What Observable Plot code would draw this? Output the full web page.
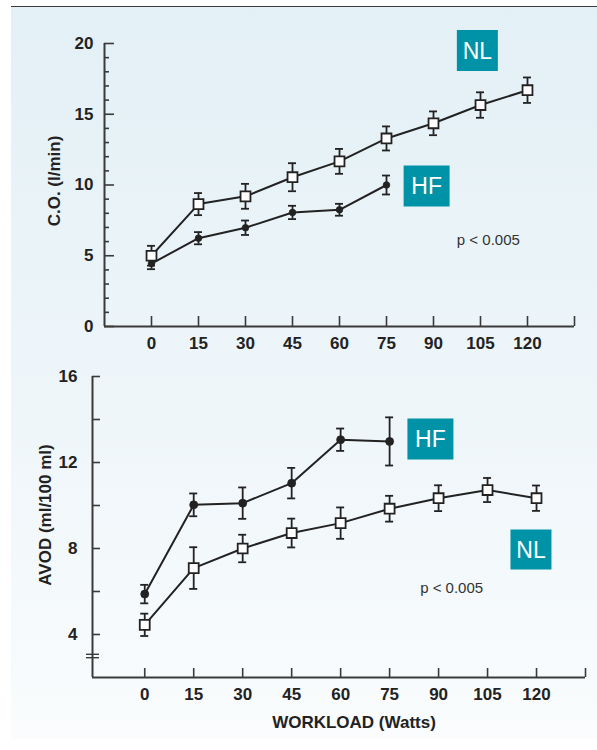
<!DOCTYPE html>
<html>
<head>
<meta charset="utf-8">
<script src="https://cdn.jsdelivr.net/npm/d3@7"></script>
<script src="https://cdn.jsdelivr.net/npm/@observablehq/plot@0.6"></script>
<style>
  html, body { margin: 0; padding: 0; background: #ffffff; }
  #wrap { position: relative; width: 597px; height: 750px; overflow: hidden; font-family: "Liberation Sans", Arial, sans-serif; }
  #panel { position: absolute; left: 11px; top: 6px; width: 586px; height: 732px;
           border-top: 1.6px solid #3a3a3a;
           background: linear-gradient(to bottom, #e3f0f6 0%, #edf5f9 50%, #fafcfd 100%); }
  #top, #bottom { position: absolute; left: 0; }
  #top { top: 0; }
  #bottom { top: 360px; }
  svg { overflow: visible; }
</style>
</head>
<body>
<div id="wrap">
  <div id="panel"></div>
  <div id="top"></div>
  <div id="bottom"></div>
</div>
<script>
// ---------- data ----------
const workload = [0, 15, 30, 45, 60, 75, 90, 105, 120];
const workloadHF = [0, 15, 30, 45, 60, 75];

// Cardiac output (l/min)
const coNL    = [5.0, 8.65, 9.2, 10.55, 11.67, 13.29, 14.36, 15.65, 16.7];
const coNLerr = [0.7, 0.78, 0.88, 0.99, 0.88, 0.85, 0.84, 0.9, 0.9];
const coHF    = [4.45, 6.24, 6.98, 8.06, 8.25, 10.0];
const coHFerr = [0.4, 0.43, 0.51, 0.47, 0.42, 0.67];

// AVOD (ml/100 ml)
const avodNL    = [4.45, 7.09, 8.0, 8.72, 9.18, 9.85, 10.34, 10.72, 10.34];
const avodNLerr = [0.52, 0.97, 0.64, 0.67, 0.73, 0.6, 0.6, 0.56, 0.59];
const avodHF    = [5.88, 10.03, 10.11, 11.04, 13.06, 12.98];
const avodHFerr = [0.43, 0.53, 0.73, 0.71, 0.52, 1.12];

// axes
const xTicks = [0, 15, 30, 45, 60, 75, 90, 105, 120];
const coYMajor = [0, 5, 10, 15, 20];
const coYMinor = [1, 2, 3, 4, 6, 7, 8, 9, 11, 12, 13, 14, 16, 17, 18, 19];
const avodYLabels = [4, 8, 12, 16];
const avodYTicks = [4, 6, 8, 10, 12, 14, 16];
const avodBreak = [3];

// texts
const coYTitle = "C.O. (l/min)";
const avodYTitle = "AVOD (ml/100 ml)";
const xTitle = "WORKLOAD (Watts)";
const pText = "p < 0.005";

// label annotations (data coordinates)
const coLabels = [
  {name: "NL", x: 104, y: 19.5, w: 41, h: 41},
  {name: "HF", x: 87.8, y: 9.93, w: 46, h: 41}
];
const coP = [{x: 107.5, y: 6.1}];
const avodLabels = [
  {name: "HF", x: 87.5, y: 13.09, w: 46, h: 41},
  {name: "NL", x: 118.3, y: 7.95, w: 41, h: 40}
];
const avodP = [{x: 94, y: 6.15}];

// ---------- helpers ----------
const FONT = "'Liberation Sans', Arial, Helvetica, sans-serif";
const INK = "#222";
const AXIS = "#3a3a3a";
const TEAL = "#0093a8";
const TICKFS = 17;

function series(xs, vs, es) { return xs.map((x, i) => ({x, v: vs[i], e: es[i]})); }
function rectSymbol(w, h) { return {draw(ctx) { ctx.rect(-w / 2, -h / 2, w, h); }}; }

function seriesMarks(nl, hf, dotR) {
  const errMarks = (d) => [
    Plot.ruleX(d, {x: "x", y1: (p) => p.v - p.e, y2: (p) => p.v + p.e, stroke: INK, strokeWidth: 1.8}),
    Plot.ruleY(d, {x1: "x", x2: "x", y: (p) => p.v + p.e, insetLeft: -4, insetRight: -4, stroke: INK, strokeWidth: 1.8}),
    Plot.ruleY(d, {x1: "x", x2: "x", y: (p) => p.v - p.e, insetLeft: -4, insetRight: -4, stroke: INK, strokeWidth: 1.8})
  ];
  return [
    Plot.line(nl, {x: "x", y: "v", stroke: INK, strokeWidth: 2}),
    Plot.line(hf, {x: "x", y: "v", stroke: INK, strokeWidth: 2}),
    ...errMarks(hf),
    ...errMarks(nl),
    Plot.dot(hf, {x: "x", y: "v", r: dotR, fill: INK, stroke: INK, strokeWidth: 0.8}),
    Plot.dot(nl, {x: "x", y: "v", symbol: "square", r: 5.6, fill: "white", stroke: INK, strokeWidth: 1.8})
  ];
}

function labelMarks(labels, pPos) {
  const m = [];
  for (const l of labels) {
    m.push(Plot.dot([l], {x: "x", y: "y", symbol: rectSymbol(l.w, l.h), fill: TEAL, stroke: "none"}));
    m.push(Plot.text([l], {x: "x", y: "y", text: "name", fill: "white", fontSize: 23, fontFamily: FONT, dy: 1}));
  }
  m.push(Plot.text(pPos, {x: "x", y: "y", text: () => pText, fill: "#333", fontSize: 15, fontFamily: FONT}));
  return m;
}

// ---------- top chart ----------
const coXDomain = [-15, 135];
const coYDomain = [0, 20];
const topPlot = Plot.plot({
  width: 597, height: 360,
  marginTop: 43, marginBottom: 34, marginLeft: 104, marginRight: 23,
  style: {background: "transparent", fontFamily: FONT, overflow: "visible"},
  x: {domain: coXDomain, label: null},
  y: {domain: coYDomain, label: null},
  marks: [
    Plot.ruleX([coXDomain[0]], {y1: coYDomain[0], y2: coYDomain[1], stroke: AXIS, strokeWidth: 2}),
    Plot.ruleY([coYDomain[0]], {x1: coXDomain[0], x2: coXDomain[1], stroke: AXIS, strokeWidth: 2}),
    Plot.axisY({ticks: coYMajor, tickSize: 10, dx: 10, tickFormat: () => "", label: null, stroke: AXIS, strokeWidth: 1.6}),
    Plot.axisY({ticks: coYMinor, tickSize: 5, dx: 5, tickFormat: () => "", label: null, stroke: AXIS, strokeWidth: 1.6}),
    Plot.axisY({ticks: coYMajor, tickSize: 0, tickPadding: 11, label: null, fontSize: TICKFS, fontWeight: "bold", fill: INK, fontFamily: FONT}),
    Plot.axisX({ticks: [...xTicks, coXDomain[1]], tickSize: 10, dy: -10, tickFormat: () => "", label: null, stroke: AXIS, strokeWidth: 1.6}),
    Plot.axisX({ticks: xTicks, tickSize: 0, tickPadding: 10, label: null, fontSize: TICKFS, fontWeight: "bold", fill: INK, fontFamily: FONT}),
    Plot.text([coYTitle], {text: (d) => d, frameAnchor: "left", textAnchor: "middle", lineAnchor: "middle", rotate: -90, dx: -50, dy: -4, fontSize: 17, fontWeight: "bold", fill: INK, fontFamily: FONT}),
    ...seriesMarks(series(workload, coNL, coNLerr), series(workloadHF, coHF, coHFerr), 3.3),
    ...labelMarks(coLabels, coP)
  ]
});
document.getElementById("top").appendChild(topPlot);

// ---------- bottom chart ----------
const avXDomain = [-16, 135];
const avYDomain = [2, 16];
const bottomPlot = Plot.plot({
  width: 597, height: 390,
  marginTop: 16, marginBottom: 73, marginLeft: 92, marginRight: 12,
  style: {background: "transparent", fontFamily: FONT, overflow: "visible"},
  x: {domain: avXDomain, label: null},
  y: {domain: avYDomain, label: null},
  marks: [
    Plot.ruleX([avXDomain[0]], {y1: avYDomain[0], y2: avYDomain[1], stroke: AXIS, strokeWidth: 2}),
    Plot.ruleY([avYDomain[0]], {x1: avXDomain[0], x2: avXDomain[1], stroke: AXIS, strokeWidth: 2}),
    Plot.ruleY(avodBreak, {x1: avXDomain[0], x2: avXDomain[0], insetLeft: -6, insetRight: -7, dy: -1.7, stroke: AXIS, strokeWidth: 1.4}),
    Plot.ruleY(avodBreak, {x1: avXDomain[0], x2: avXDomain[0], insetLeft: -6, insetRight: -7, dy: 1.7, stroke: AXIS, strokeWidth: 1.4}),
    Plot.axisY({ticks: avodYTicks, tickSize: 8, dx: 8, tickFormat: () => "", label: null, stroke: AXIS, strokeWidth: 1.6}),
    Plot.axisY({ticks: avodYLabels, tickSize: 0, tickPadding: 15, label: null, fontSize: TICKFS, fontWeight: "bold", fill: INK, fontFamily: FONT}),
    Plot.axisX({ticks: [...xTicks, avXDomain[1]], tickSize: 9, dy: -9, tickFormat: () => "", label: null, stroke: AXIS, strokeWidth: 1.6}),
    Plot.axisX({ticks: xTicks, tickSize: 0, tickPadding: 10, label: null, fontSize: TICKFS, fontWeight: "bold", fill: INK, fontFamily: FONT}),
    Plot.text([avodYTitle], {text: (d) => d, frameAnchor: "left", textAnchor: "middle", lineAnchor: "middle", rotate: -90, dx: -47, dy: -12, fontSize: 17, fontWeight: "bold", fill: INK, fontFamily: FONT}),
    Plot.text([xTitle], {text: (d) => d, frameAnchor: "bottom", textAnchor: "middle", lineAnchor: "middle", dx: 15, dy: 45, fontSize: 17, fontWeight: "bold", fill: INK, fontFamily: FONT}),
    ...seriesMarks(series(workload, avodNL, avodNLerr), series(workloadHF, avodHF, avodHFerr), 4),
    ...labelMarks(avodLabels, avodP)
  ]
});
document.getElementById("bottom").appendChild(bottomPlot);
</script>
</body>
</html>
